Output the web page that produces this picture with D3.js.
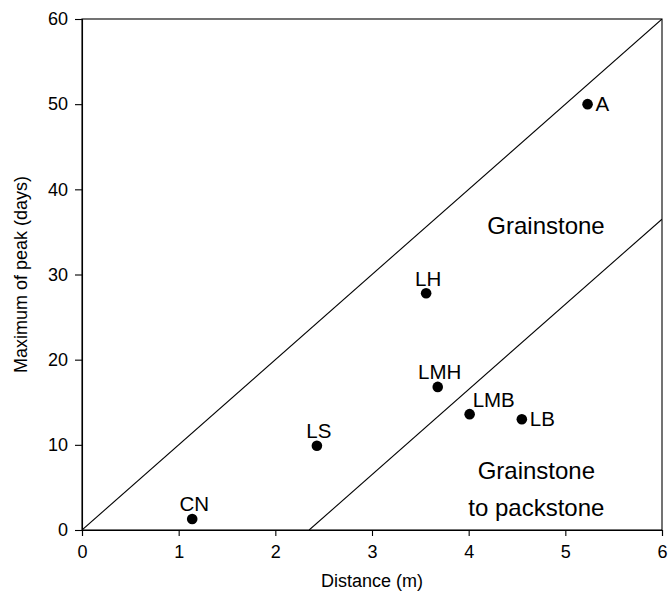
<!DOCTYPE html>
<html>
<head>
<meta charset="utf-8">
<script src="https://cdn.jsdelivr.net/npm/d3@7"></script>
<style>
  html, body { margin: 0; padding: 0; background: #fff; }
  svg { display: block; font-family: Arial, "Liberation Sans", sans-serif; }
</style>
</head>
<body>
<svg id="chart" width="668" height="592"></svg>
<script>
// Data
const siteNames = ["A", "LH", "LMH", "LMB", "LB", "LS", "CN"];
const distance = [5.23, 3.56, 3.68, 4.01, 4.55, 2.43, 1.14];
const peakDays = [50.0, 27.8, 16.8, 13.6, 13.0, 9.9, 1.3];
// label placement relative to the dot
const labelPlace = ["right", "above", "above", "aboveRight", "right", "above", "above"];
const xTicks = [0, 1, 2, 3, 4, 5, 6];
const yTicks = [0, 10, 20, 30, 40, 50, 60];
// boundary lines (x, y pairs in data units)
const upperLine = [[0, 0], [6, 60]];
const lowerLine = [[2.35, 0], [6, 36.5]];
const regionLabels = [
  { lines: ["Grainstone"], x: 4.8, y: 34.8 },
  { lines: ["Grainstone", "to packstone"], x: 4.7, y: 6.0 }
];

const svg = d3.select("#chart");
const W = 668, H = 592;
const margin = { top: 19, right: 6, bottom: 62, left: 82 };
const iw = W - margin.left - margin.right;
const ih = H - margin.top - margin.bottom;

const x = d3.scaleLinear().domain([0, 6]).range([0, iw]);
const y = d3.scaleLinear().domain([0, 60]).range([ih, 0]);

const g = svg.append("g").attr("transform", `translate(${margin.left},${margin.top})`);

svg.append("defs").append("clipPath").attr("id", "clip")
  .append("rect").attr("width", iw).attr("height", ih);

// frame
g.append("rect").attr("width", iw).attr("height", ih)
  .attr("fill", "none").attr("stroke", "#000").attr("stroke-width", 1.1);

// axes
const xAxis = d3.axisBottom(x).tickValues(xTicks).tickSize(6).tickPadding(9).tickFormat(d3.format("d"));
const yAxis = d3.axisLeft(y).tickValues(yTicks).tickSize(7).tickPadding(7).tickFormat(d3.format("d"));

const gx = g.append("g").attr("transform", `translate(0,${ih})`).call(xAxis);
const gy = g.append("g").call(yAxis);
[gx, gy].forEach(a => {
  a.select(".domain").attr("stroke", "#000").attr("stroke-width", 1.1);
  a.selectAll(".tick line").attr("stroke", "#000").attr("stroke-width", 1.1);
  a.selectAll(".tick text").attr("fill", "#000").style("font-size", "18px")
    .style("font-family", "Arial, 'Liberation Sans', sans-serif");
});

// axis titles
g.append("text").attr("x", iw / 2).attr("y", ih + 57)
  .attr("text-anchor", "middle").style("font-size", "18px").text("Distance (m)");
g.append("text").attr("transform", `translate(${-55},${ih / 2}) rotate(-90)`)
  .attr("text-anchor", "middle").style("font-size", "18px").text("Maximum of peak (days)");

// boundary lines
const line = d3.line().x(d => x(d[0])).y(d => y(d[1]));
const lg = g.append("g").attr("clip-path", "url(#clip)");
[upperLine, lowerLine].forEach(l => {
  lg.append("path").attr("d", line(l)).attr("fill", "none")
    .attr("stroke", "#000").attr("stroke-width", 1.1);
});

// region labels
regionLabels.forEach(r => {
  const t = g.append("text").attr("x", x(r.x)).attr("y", y(r.y))
    .attr("text-anchor", "middle").style("font-size", "24px");
  r.lines.forEach((s, i) => {
    t.append("tspan").attr("x", x(r.x)).attr("dy", i === 0 ? 0 : 37.5).text(s);
  });
});

// points
const pts = siteNames.map((n, i) => ({ n, x: distance[i], y: peakDays[i], p: labelPlace[i] }));
g.selectAll("circle.pt").data(pts).join("circle").attr("class", "pt")
  .attr("cx", d => x(d.x)).attr("cy", d => y(d.y)).attr("r", 5.3).attr("fill", "#000");

g.selectAll("text.lab").data(pts).join("text").attr("class", "lab")
  .style("font-size", "20.5px")
  .attr("x", d => d.p === "above" ? x(d.x) + 2 : d.p === "right" ? x(d.x) + 8 : x(d.x) + 3)
  .attr("y", d => d.p === "right" ? y(d.y) + 7 : y(d.y) - 7.5)
  .attr("text-anchor", d => d.p === "above" ? "middle" : "start")
  .text(d => d.n);
</script>
</body>
</html>
